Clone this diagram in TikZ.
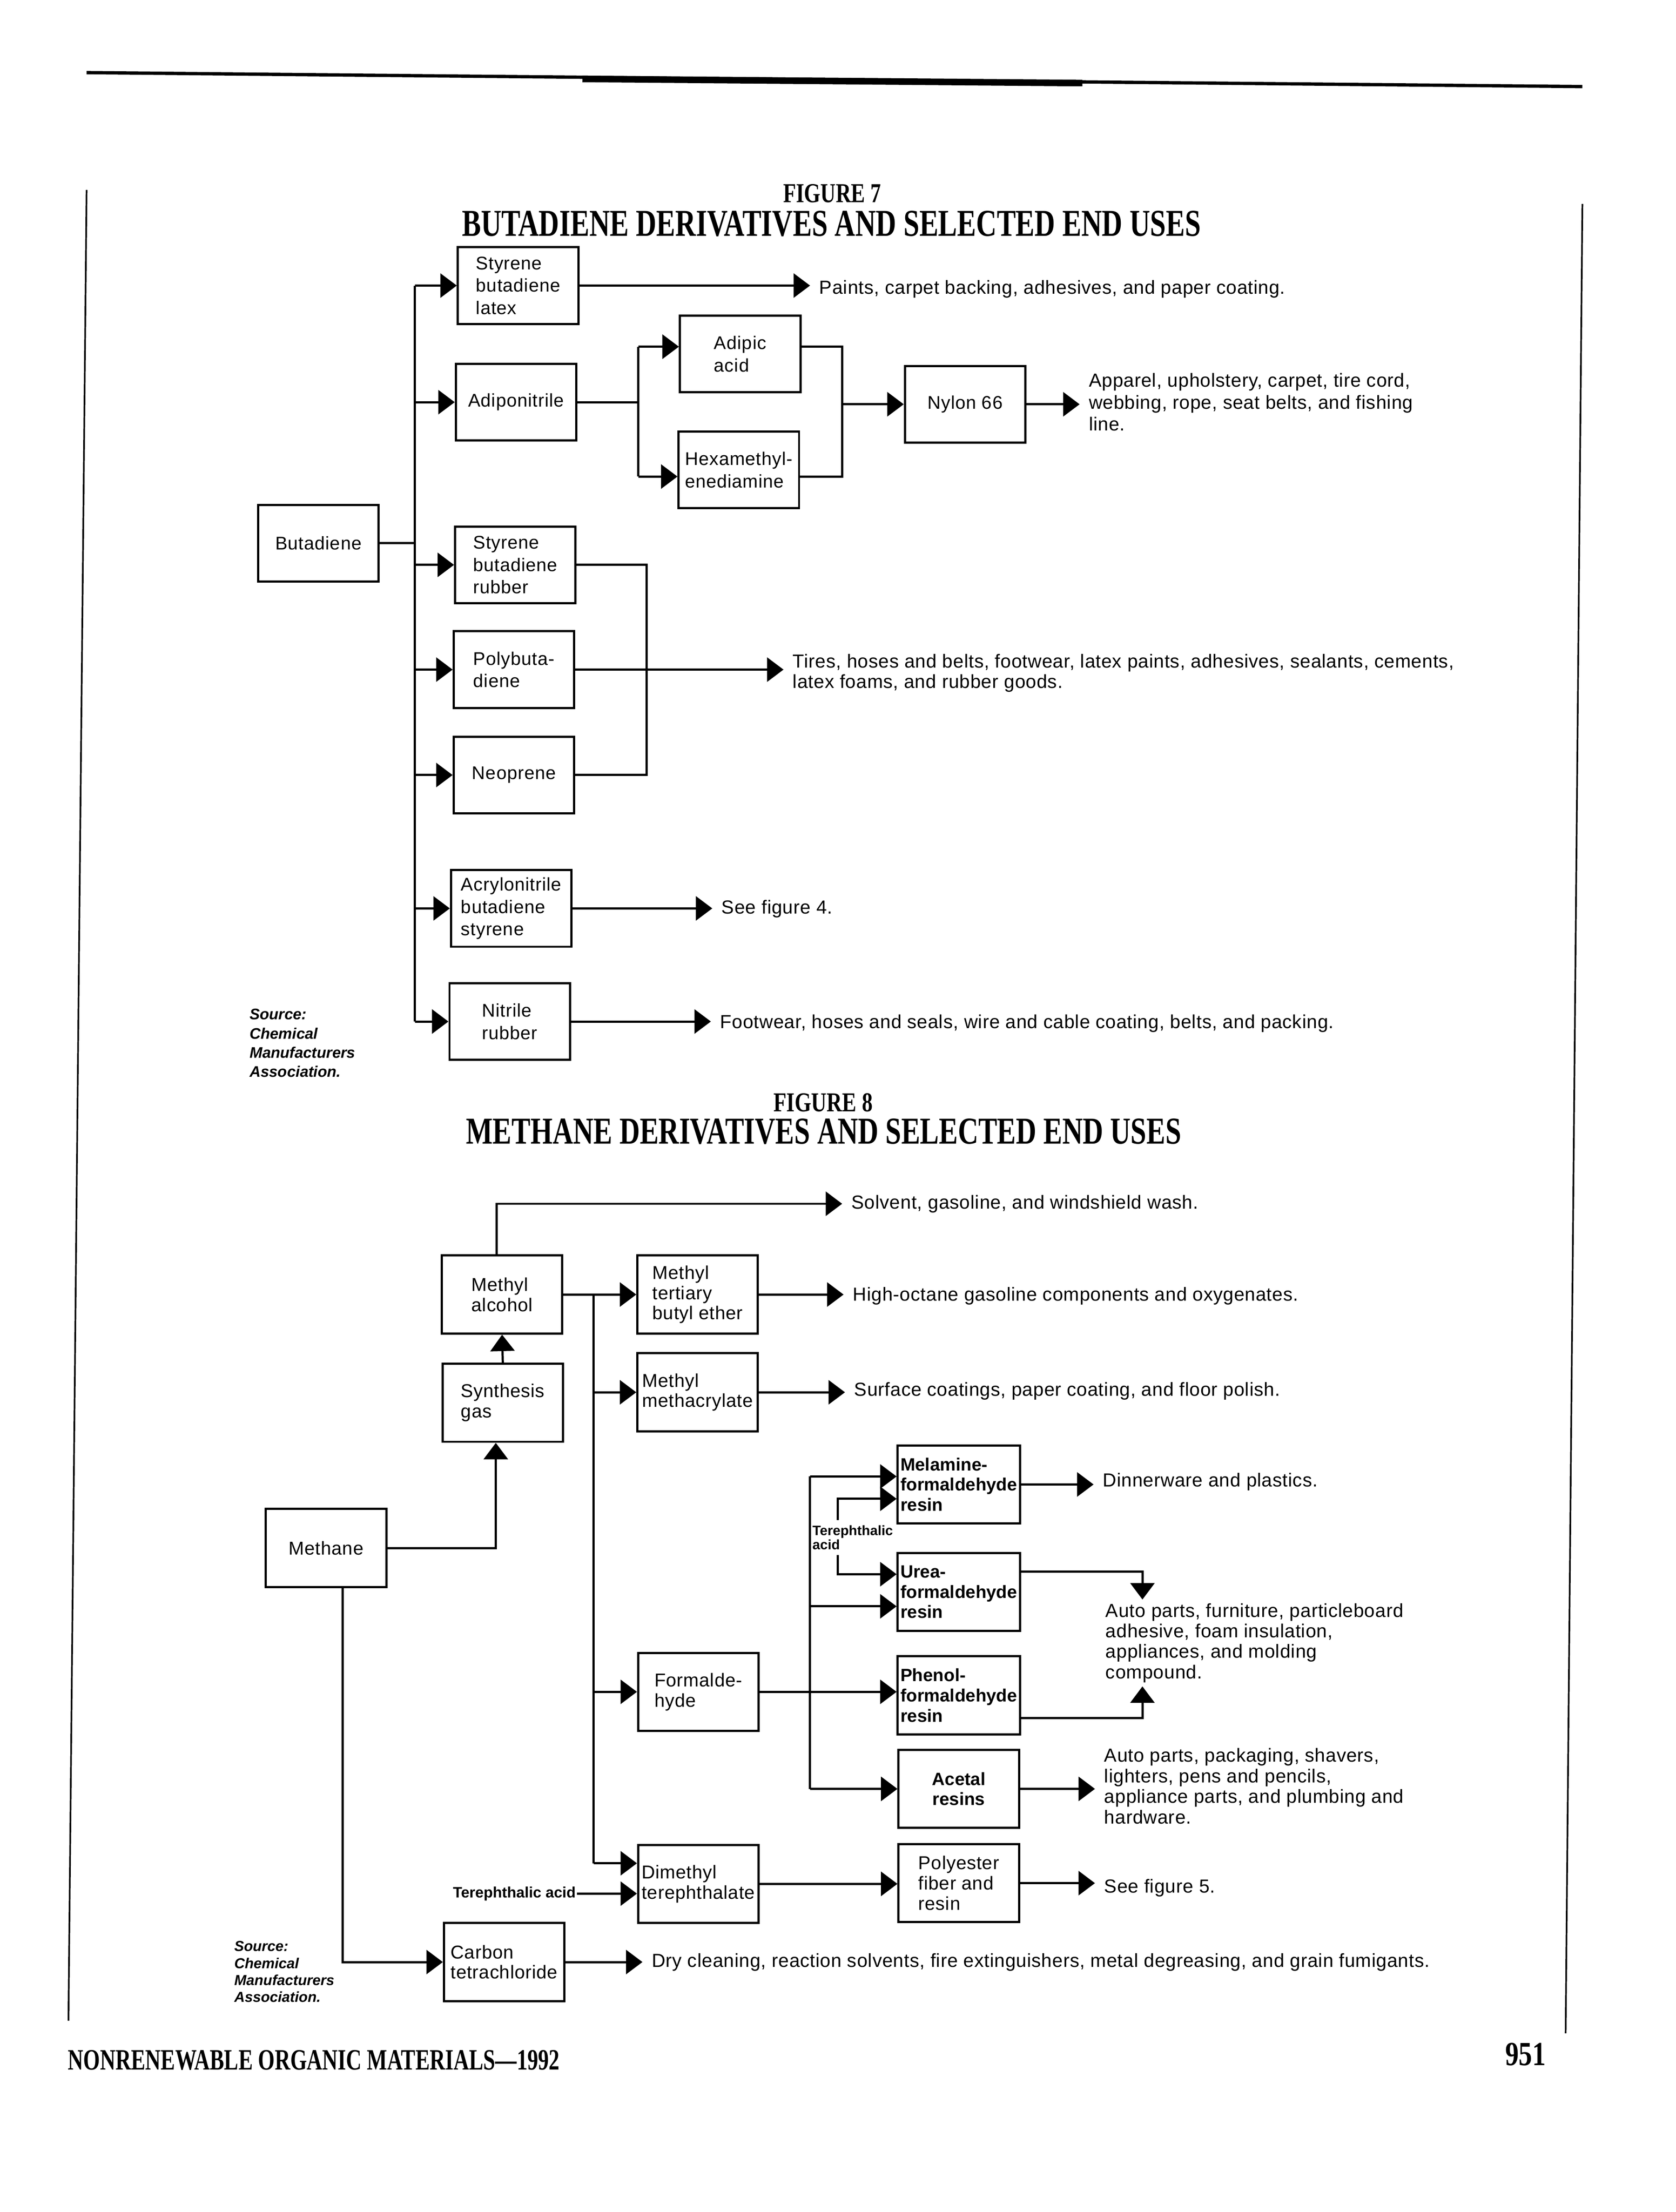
\documentclass[tikz,border=0pt]{standalone}
\usepackage{fontspec}
\usetikzlibrary{arrows.meta,calc}
\newfontfamily\lsans{Liberation Sans}
\newfontfamily\lsansw[LetterSpace=2.5]{Liberation Sans}
\newfontfamily\lsanse[LetterSpace=2]{Liberation Sans}
\newfontfamily\lserif{Liberation Serif}
\newlength\ux \setlength\ux{0.51pt}
\newcommand\bxf{\lsansw\fontsize{6.7pt}{8.2pt}\selectfont}
\newcommand\bxg{\lsanse\fontsize{6.8pt}{7.4pt}\selectfont}
\newcommand\bxb{\lsans\bfseries\fontsize{6.5pt}{7.4pt}\selectfont}
\newcommand\etf{\lsanse\fontsize{6.9pt}{7.5pt}\selectfont}
\newcommand\etn{\lsanse\fontsize{6.9pt}{8pt}\selectfont}
\newcommand\srcf{\lsans\bfseries\itshape\fontsize{5.6pt}{7pt}\selectfont}
\newcommand\srcg{\lsans\bfseries\itshape\fontsize{5.3pt}{6.2pt}\selectfont}
\newcommand\tpf{\lsans\bfseries\fontsize{5pt}{5.2pt}\selectfont}
\newcommand\tpg{\lsans\bfseries\fontsize{5.5pt}{6pt}\selectfont}
\newcommand\fitt[3]{\resizebox{#1\ux}{#2\ux}{\lserif\bfseries #3}}
\begin{document}
\begin{tikzpicture}[x=0.51pt,y=-0.51pt,
  line width=0.8pt,
  arr/.style={-{Triangle[length=6pt,width=8.8pt]}},
  box/.style={draw, minimum width=44pt, minimum height=28pt, inner sep=1pt, align=left, font=\bxf},
  boxg/.style={box, font=\bxg, minimum height=28.5pt},
  boxb/.style={boxg, font=\bxb},
  endtxt/.style={anchor=west, inner xsep=3pt, inner ysep=1pt, align=left, font=\etf},
  ttl/.style={anchor=base west, inner sep=0pt},
  frame/.style={line width=0.6pt}
]
\fill[white] (0,0) rectangle (1200,1584);
\useasboundingbox (0,0) rectangle (1200,1584);

% page rules
\draw[line width=1.2pt] (62,52) -- (1133,62);
\draw[line width=2.4pt] (417,56.5) -- (775,59.5);
\draw[frame] (62,136) -- (49,1447);
\draw[frame] (1133,146) -- (1121,1456);

% titles
\node[ttl] (fig7) at (560,145) {\fitt{70}{13}{FIGURE 7}};
\node[ttl] (title7) at (330,169) {\fitt{529}{18}{BUTADIENE DERIVATIVES AND SELECTED END USES}};
\node[ttl] (fig8) at (553,796) {\fitt{71}{13}{FIGURE 8}};
\node[ttl] (title8) at (333,819) {\fitt{512}{18}{METHANE DERIVATIVES AND SELECTED END USES}};
\node[ttl] (foot) at (48,1482) {\fitt{352}{14}{NONRENEWABLE ORGANIC MATERIALS\textemdash 1992}};
\node[ttl] (pgno) at (1077,1479) {\fitt{29}{16}{951}};

% ---------------- Figure 7 ----------------
\node[box] (bd) at (228,389) {Butadiene};
\node[box] (sbl) at (371,204.5) {Styrene\\butadiene\\latex};
\node[box] (adn) at (369.5,288) {Adiponitrile};
\node[box] (adp) at (530,253.5) {Adipic\\acid};
\node[box] (hmd) at (529,336.5) {Hexamethyl-\\enediamine};
\node[box] (nyl) at (691,289.5) {Nylon 66};
\node[box] (sbr) at (369,404.5) {Styrene\\butadiene\\rubber};
\node[box] (pbd) at (368,479.5) {Polybuta-\\diene};
\node[box] (neo) at (368,555) {Neoprene};
\node[box] (abs) at (366,650.5) {Acrylonitrile\\butadiene\\styrene};
\node[box] (nbr) at (365,731.5) {Nitrile\\rubber};

\node[endtxt] (paints) at (580,207) {Paints, carpet backing, adhesives, and paper coating.};
\node[endtxt, font=\etn] (nyltxt) at (773,288) {Apparel, upholstery, carpet, tire cord,\\webbing, rope, seat belts, and fishing\\line.};
\node[endtxt] (tires) at (561,482) {Tires, hoses and belts, footwear, latex paints, adhesives, sealants, cements,\\latex foams, and rubber goods.};
\node[endtxt] (sf4) at (510,651) {See figure 4.};
\node[endtxt] (foot7) at (509,733) {Footwear, hoses and seals, wire and cable coating, belts, and packing.};
\node[anchor=west, align=left, inner sep=0pt, font=\srcf] (src7) at (178,747) {Source:\\Chemical\\Manufacturers\\Association.};

\coordinate (b7) at (297,0);
\coordinate (j1) at (457,0);
\coordinate (j2) at (603,0);
\coordinate (j3) at (463,0);
\coordinate (adpL) at ($(adp.north west)+(0,23)$);
\coordinate (adpR) at ($(adp.north east)+(0,23)$);
\coordinate (hmdL) at ($(hmd.north west)+(0,33)$);
\coordinate (hmdR) at ($(hmd.north east)+(0,33)$);

\draw (bd.east) -- (bd.east -| b7);
\draw (b7 |- sbl.west) -- (b7 |- nbr.west);
\foreach \n in {sbl,adn,sbr,pbd,neo,abs,nbr} \draw[arr] (b7 |- \n.west) -- (\n.west);
\draw[arr] (sbl.east) -- (sbl.east -| paints.west);
\draw (adn.east) -- (adn.east -| j1);
\draw (j1 |- adpL) -- (j1 |- hmdL);
\draw[arr] (j1 |- adpL) -- (adpL);
\draw[arr] (j1 |- hmdL) -- (hmdL);
\draw (adpR) -| (j2 |- hmdR) -- (hmdR);
\draw[arr] (j2 |- nyl.west) -- (nyl.west);
\draw[arr] (nyl.east) -- (nyl.east -| nyltxt.west);
\draw (sbr.east) -| (j3 |- neo.east) -- (neo.east);
\draw[arr] (pbd.east) -- (pbd.east -| tires.west);
\draw[arr] (abs.east) -- (abs.east -| sf4.west);
\draw[arr] (nbr.east) -- (nbr.east -| foot7.west);

% ---------------- Figure 8 ----------------
\node[boxg] (meth) at (233.5,1108.5) {Methane};
\node[boxg] (moh) at (359.5,927) {Methyl\\alcohol};
\node[boxg] (syn) at (360,1004.5) {Synthesis\\gas};
\node[boxg] (mtbe) at (499.5,927) {Methyl\\tertiary\\butyl ether};
\node[boxg] (mma) at (499.5,997) {Methyl\\methacrylate};
\node[boxb] (mel) at (686.5,1063) {Melamine-\\formaldehyde\\resin};
\node[boxb] (urea) at (686.5,1140) {Urea-\\formaldehyde\\resin};
\node[boxb] (phen) at (686.5,1214) {Phenol-\\formaldehyde\\resin};
\node[boxb, align=center] (acet) at (686.5,1281) {Acetal\\resins};
\node[boxg] (form) at (500,1211.5) {Formalde-\\hyde};
\node[boxg] (dmt) at (500,1349) {Dimethyl\\terephthalate};
\node[boxg] (pes) at (686.5,1348.5) {Polyester\\fiber and\\resin};
\node[boxg] (ctc) at (361,1405) {Carbon\\tetrachloride};

\node[endtxt] (solv) at (603,862) {Solvent, gasoline, and windshield wash.};
\node[endtxt] (hoct) at (604,928) {High-octane gasoline components and oxygenates.};
\node[endtxt] (surf) at (605,996) {Surface coatings, paper coating, and floor polish.};
\node[endtxt] (dinner) at (783,1061) {Dinnerware and plastics.};
\node[endtxt] (auto1) at (785,1176.5) {Auto parts, furniture, particleboard\\adhesive, foam insulation,\\appliances, and molding\\compound.};
\node[endtxt] (auto2) at (784,1279) {Auto parts, packaging, shavers,\\lighters, pens and pencils,\\appliance parts, and plumbing and\\hardware.};
\node[endtxt] (sf5) at (784,1352) {See figure 5.};
\node[endtxt] (dry) at (460,1405) {Dry cleaning, reaction solvents, fire extinguishers, metal degreasing, and grain fumigants.};
\node[anchor=west, align=left, inner sep=0pt, font=\srcg] (src8) at (167,1412) {Source:\\Chemical\\Manufacturers\\Association.};
\node[anchor=west, align=left, inner xsep=0pt, inner ysep=1.5pt, font=\tpf] (tpa) at (581,1101) {Terephthalic\\acid};
\node[anchor=east, inner sep=0pt, font=\tpg] (tpa2) at (413,1356) {Terephthalic acid};

\coordinate (b8) at (425,0);
\coordinate (f8) at (580,0);
\coordinate (t8) at (600,0);
\coordinate (r8) at (818,0);
\coordinate (melA) at ($(mel.north west)+(0,23)$);
\coordinate (melB) at ($(mel.north west)+(0,39)$);
\coordinate (ureaA) at ($(urea.north west)+(0,16)$);
\coordinate (ureaB) at ($(urea.north west)+(0,39)$);
\coordinate (ureaR) at ($(urea.north east)+(0,14)$);
\coordinate (phenR) at ($(phen.north east)+(0,45)$);
\coordinate (dmtA) at ($(dmt.north west)+(0,14)$);

\draw[arr] (meth.east) -| ($(syn.south)+(-5,0)$);
\draw[arr] (syn.north) -- (moh.south);
\draw[arr] ($(moh.north)+(-4,0)$) |- (solv.west);
\draw[arr] (moh.east) -- (moh.east -| mtbe.west);
\draw (b8 |- moh.east) -- (b8 |- dmtA);
\draw[arr] (b8 |- mma.west) -- (mma.west);
\draw[arr] (b8 |- form.west) -- (form.west);
\draw[arr] (b8 |- dmtA) -- (dmtA);
\draw[arr] (tpa2.east) -- (tpa2.east -| dmt.west);
\draw[arr] (dmt.east) -- (dmt.east -| pes.west);
\draw[arr] (pes.east) -- (pes.east -| sf5.west);
\draw[arr] (mtbe.east) -- (mtbe.east -| hoct.west);
\draw[arr] (mma.east) -- (mma.east -| surf.west);
\draw[arr] (mel.east) -- (mel.east -| dinner.west);
\draw[arr] (acet.east) -- (acet.east -| auto2.west);
\draw[arr] (ctc.east) -- (ctc.east -| dry.west);
\draw[arr] ($(meth.south)+(12,0)$) |- (ctc.west);
\draw[arr] (form.east) -- (form.east -| phen.west);
\draw (f8 |- melA) -- (f8 |- acet.west);
\draw[arr] (f8 |- melA) -- (melA);
\draw[arr] (f8 |- ureaB) -- (ureaB);
\draw[arr] (f8 |- acet.west) -- (acet.west);
\draw[arr] (tpa.north -| t8) |- (melB);
\draw[arr] (tpa.south -| t8) |- (ureaA);
\draw[arr] (ureaR) -| (auto1.north -| r8);
\draw[arr] (phenR) -| (auto1.south -| r8);
\end{tikzpicture}
\end{document}
